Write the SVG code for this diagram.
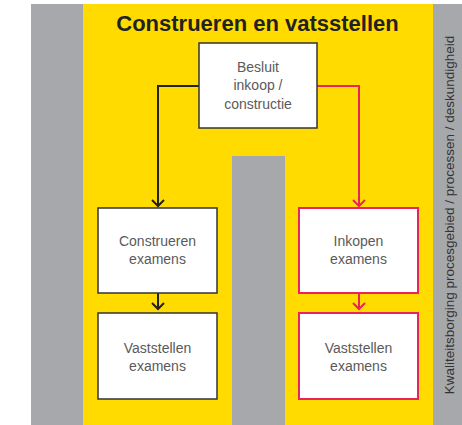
<svg xmlns="http://www.w3.org/2000/svg" width="462" height="425" viewBox="0 0 462 425">
  <style>
    .gray { fill: #a7a8ab; }
    .yellow { fill: #ffdb00; }
    .box { fill: #ffffff; stroke: #333333; stroke-width: 1.5; }
    .rbox { fill: #ffffff; stroke: #e8245a; stroke-width: 2; }
    .lbl { font-family: "Liberation Sans", Arial, sans-serif; font-size: 14px; fill: #5a5a5a; text-anchor: middle; }
    .title { font-family: "Liberation Sans", Arial, sans-serif; font-size: 22px; font-weight: bold; fill: #222222; text-anchor: middle; }
    .side { font-family: "Liberation Sans", Arial, sans-serif; font-size: 13.5px; fill: #333333; text-anchor: middle; }
    .blk { fill: none; stroke: #222222; stroke-width: 2; }
    .red { fill: none; stroke: #e8245a; stroke-width: 2; }
  </style>
  <defs>
    <marker id="ab" markerWidth="10" markerHeight="14" refX="8" refY="7" orient="auto" markerUnits="userSpaceOnUse" viewBox="0 0 10 14">
      <path d="M2,1 L8,7 L2,13" fill="none" stroke="#222222" stroke-width="2"/>
    </marker>
    <marker id="ar" markerWidth="10" markerHeight="14" refX="8" refY="7" orient="auto" markerUnits="userSpaceOnUse" viewBox="0 0 10 14">
      <path d="M2,1 L8,7 L2,13" fill="none" stroke="#e8245a" stroke-width="2"/>
    </marker>
  </defs>

  <g id="background">
    <rect class="gray" x="31" y="4" width="52" height="421"/>
    <rect class="yellow" x="83" y="4" width="350" height="421"/>
    <rect class="gray" x="433" y="4" width="29" height="421"/>
    <rect class="gray" x="232" y="156" width="53" height="269"/>
  </g>

  <text class="title" x="257.5" y="31">Construeren en vatsstellen</text>
  <text class="side" transform="translate(453.5,215) rotate(-90)">Kwaliteitsborging procesgebied / processen / deskundigheid</text>

  <g id="connectors">
    <path class="blk" d="M199,86 H158 V206" marker-end="url(#ab)"/>
    <path class="red" d="M317,86 H359 V206" marker-end="url(#ar)"/>
    <path class="blk" d="M158,293 V309" marker-end="url(#ab)"/>
    <path class="red" d="M359,293 V309" marker-end="url(#ar)"/>
  </g>

  <g id="besluit">
    <rect class="box" x="199" y="43" width="118" height="85"/>
    <text class="lbl" x="258" y="72">Besluit</text>
    <text class="lbl" x="258" y="90">inkoop /</text>
    <text class="lbl" x="258" y="109">constructie</text>
  </g>

  <g id="construeren">
    <rect class="box" x="98" y="208" width="119" height="85"/>
    <text class="lbl" x="157.5" y="246">Construeren</text>
    <text class="lbl" x="157.5" y="264">examens</text>
  </g>

  <g id="inkopen">
    <rect class="rbox" x="299" y="208" width="119" height="85"/>
    <text class="lbl" x="358.5" y="246">Inkopen</text>
    <text class="lbl" x="358.5" y="264">examens</text>
  </g>

  <g id="vaststellen-links">
    <rect class="box" x="98" y="313" width="119" height="86"/>
    <text class="lbl" x="157.5" y="353">Vaststellen</text>
    <text class="lbl" x="157.5" y="371">examens</text>
  </g>

  <g id="vaststellen-rechts">
    <rect class="rbox" x="299" y="313" width="119" height="86"/>
    <text class="lbl" x="358.5" y="353">Vaststellen</text>
    <text class="lbl" x="358.5" y="371">examens</text>
  </g>
</svg>
